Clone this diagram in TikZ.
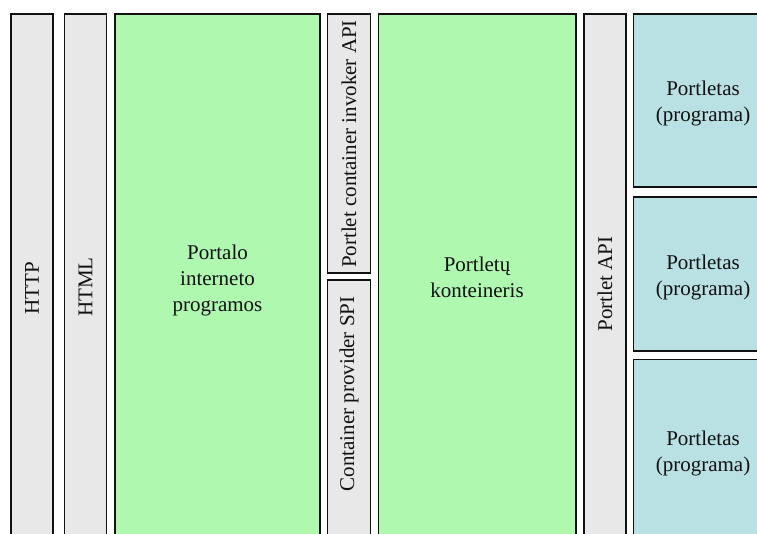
\documentclass[tikz,border=0pt]{standalone}
\usepackage{fontspec}
\setmainfont{Liberation Serif}
\newfontfamily\layerface{Liberation Serif}
\definecolor{layergray}{HTML}{E8E8E8}
\definecolor{layergreen}{HTML}{AEF8B0}
\definecolor{layercyan}{HTML}{B9E0E3}
\definecolor{inkline}{HTML}{111111}
\tikzset{
  layer/.style={draw=inkline, line width=1.5pt, anchor=north west, inner sep=0pt, outer sep=0pt},
  graylayer/.style={layer, fill=layergray},
  greenlayer/.style={layer, fill=layergreen},
  cyanlayer/.style={layer, fill=layercyan},
  caption/.style={font=\layerface\fontsize{21}{26}\selectfont, text=inkline, align=center, inner sep=0pt},
  vcaption/.style={caption, rotate=90}
}
\begin{document}
\begin{tikzpicture}[x=1pt, y=-1pt]
  \useasboundingbox (0,0) rectangle (757,534);
  \clip (0,0) rectangle (757,534);
  \fill[white] (0,0) rectangle (757,534);

  % protocol and markup layers
  \node[graylayer, minimum width=42pt, minimum height=546pt] (http) at (11,14) {};
  \node[graylayer, minimum width=42pt, minimum height=546pt] (html) at (64.5,14) {};

  % portal application
  \node[greenlayer, minimum width=205pt, minimum height=546pt] (portal) at (115,14) {};

  % container interfaces
  \node[graylayer, minimum width=43pt, minimum height=259pt] (invoker) at (327.5,14) {};
  \node[graylayer, minimum width=43pt, minimum height=280pt] (spi) at (327.5,280) {};

  % portlet container
  \node[greenlayer, minimum width=197.5pt, minimum height=546pt] (container) at (378.5,14) {};

  % portlet API
  \node[graylayer, minimum width=42pt, minimum height=546pt] (api) at (584,14) {};

  % portlets
  \node[cyanlayer, minimum width=140pt, minimum height=173pt] (p1) at (633.5,14) {};
  \node[cyanlayer, minimum width=140pt, minimum height=154pt] (p2) at (633.5,197) {};
  \node[cyanlayer, minimum width=140pt, minimum height=201pt] (p3) at (633.5,359.5) {};

  % captions
  \node[vcaption] (thttp) at (32,288) {HTTP};
  \node[vcaption] (thtml) at (85.5,287) {HTML};
  \node[caption] (tportal) at (217.5,280) {Portalo\\interneto\\programos};
  \node[vcaption] (tinvoker) at (349,144) {Portlet container invoker API};
  \node[vcaption] (tspi) at (349,394) {Container provider SPI};
  \node[caption] (tcontainer) at (477,277.5) {Portletų\\konteineris};
  \node[vcaption] (tapi) at (605,284) {Portlet API};
  \node[caption] (tp1) at (703,103) {Portletas\\(programa)};
  \node[caption] (tp2) at (703,277.5) {Portletas\\(programa)};
  \node[caption] (tp3) at (703,453) {Portletas\\(programa)};
\end{tikzpicture}
\end{document}
